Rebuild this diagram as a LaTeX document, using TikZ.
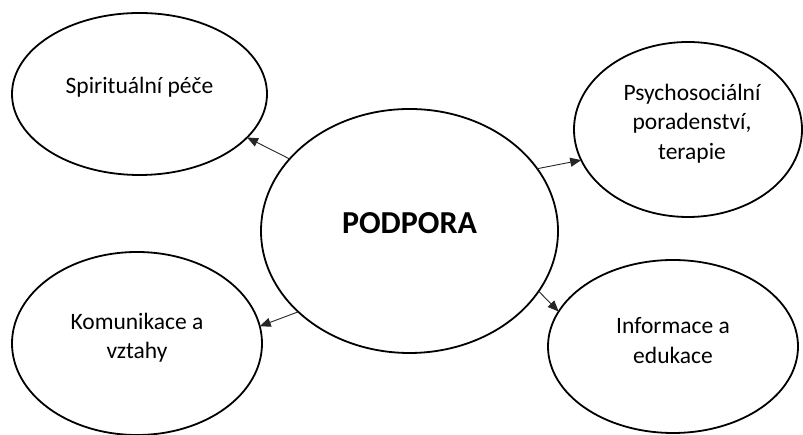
\documentclass[tikz,border=0pt]{standalone}
\usepackage{fontspec}
\setmainfont{Carlito}
\usetikzlibrary{shapes.geometric,arrows.meta}
\begin{document}
\begin{tikzpicture}[x=1pt,y=1pt,
  bubble/.style={ellipse,draw=black,line width=1.8pt,inner sep=0pt,outer sep=0pt},
  lbl/.style={align=center,font=\fontsize{23.5}{29.5}\selectfont},
  link/.style={draw=black!85,line width=0.9pt,-{Triangle[length=11pt,width=9pt]}}]
\useasboundingbox (0,0) rectangle (803,435);
% central hub
\node[bubble,minimum width=297pt,minimum height=244pt] (hub) at (409.5,204) {};
\node[font=\fontsize{32}{36}\selectfont\bfseries] (hubtxt) at ([yshift=8pt]hub.center) {PODPORA};
% outer topics
\node[bubble,minimum width=255pt,minimum height=162pt] (spir) at (139.5,341) {};
\node[lbl] (spirtxt) at ([yshift=7pt]spir.center) {Spirituální péče};
\node[bubble,minimum width=228pt,minimum height=175pt] (psy) at (688,305.5) {};
\node[lbl] (psytxt) at ([xshift=4pt,yshift=6pt]psy.center) {Psychosociální\\poradenství,\\terapie};
\node[bubble,minimum width=250pt,minimum height=183pt] (kom) at (137,91.5) {};
\node[lbl] (komtxt) at ([yshift=6pt]kom.center) {Komunikace a\\vztahy};
\node[bubble,minimum width=250pt,minimum height=173pt] (inf) at (673,88.5) {};
\node[lbl] (inftxt) at ([yshift=6pt]inf.center) {Informace a\\edukace};
% connectors from the hub
\draw[link] (hub.149) -- (spir.338);
\draw[link] (hub.26) -- (psy.196);
\draw[link] (hub.216) -- (kom.8);
\draw[link] (hub.335) -- (inf.163);
\end{tikzpicture}
\end{document}
